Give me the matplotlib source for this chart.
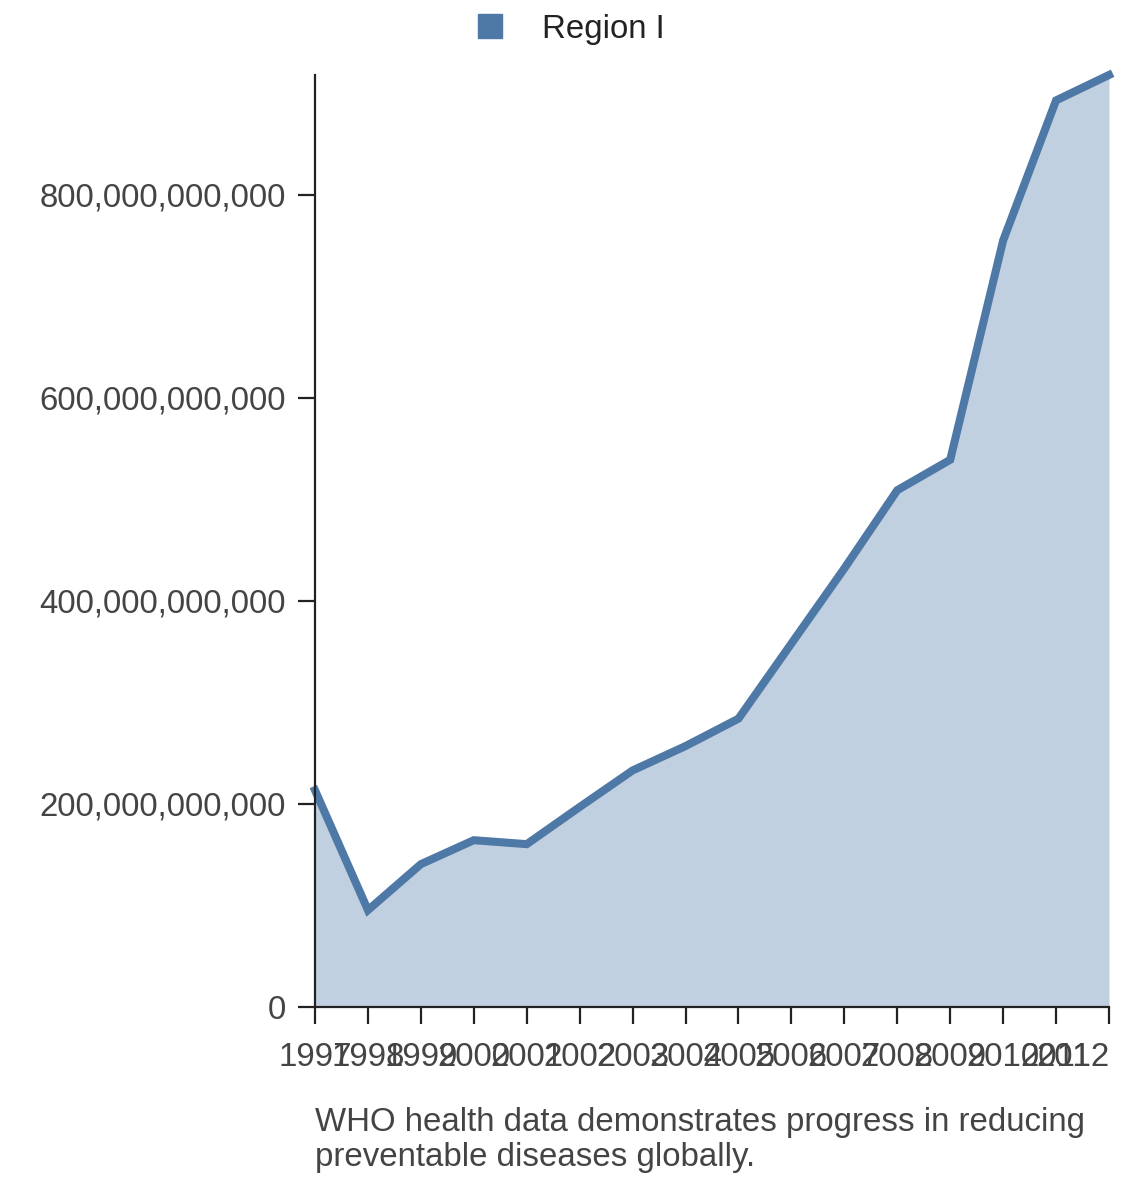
import matplotlib
matplotlib.use('Agg')
import matplotlib.pyplot as plt
from matplotlib.ticker import FuncFormatter
from matplotlib.lines import Line2D

years = [1997, 1998, 1999, 2000, 2001, 2002, 2003, 2004, 2005, 2006, 2007, 2008, 2009, 2010, 2011, 2012]
values_bn = [213.5, 95.4, 140.7, 164.3, 160.4, 197, 233, 257, 284, 358, 432, 509, 539, 755, 893, 918]
series_name = 'Region I'
caption = 'WHO health data demonstrates progress in reducing\npreventable diseases globally.'

values = [v * 1e9 for v in values_bn]

plt.rcParams['font.family'] = ['Liberation Sans', 'DejaVu Sans']

line_color = '#4e79a7'
text_color = '#444444'
fs = 23.8

fig = plt.figure(figsize=(11.4, 11.82), dpi=100)
ax = fig.add_axes([315 / 1140, 1 - 1007 / 1182, (1109 - 315) / 1140, (1007 - 75) / 1182])

ax.fill_between(years, values, 0, color=line_color, alpha=0.35, linewidth=0)
ax.plot(years, values, color=line_color, linewidth=5.8, solid_joinstyle='miter', clip_on=False)

ax.set_xlim(years[0], years[-1])
ax.set_ylim(0, max(values))
ax.set_xticks(years)
ax.set_yticks([0, 200e9, 400e9, 600e9, 800e9])
ax.yaxis.set_major_formatter(FuncFormatter(lambda v, p: '{:,.0f}'.format(v)))

for s in ['top', 'right']:
    ax.spines[s].set_visible(False)
for s in ['left', 'bottom']:
    ax.spines[s].set_color('#222222')
    ax.spines[s].set_linewidth(1.6)

ax.tick_params(axis='both', direction='out', length=12, width=1.6, color='#222222',
               labelsize=fs, labelcolor=text_color)
ax.tick_params(axis='y', pad=9)
ax.tick_params(axis='x', pad=13)

# keep the last year label inside the figure
ax.get_xticklabels()[-1].set_horizontalalignment('right')

# legend
handle = Line2D([], [], marker='s', linestyle='none', markersize=17, color=line_color)
fig.legend(handles=[handle], labels=[series_name], loc='upper center', bbox_to_anchor=(0.492, 1.005),
           frameon=False, fontsize=fs, handletextpad=0.6, labelcolor='#222222', borderaxespad=0.2)

# caption
fig.text(315 / 1140, 1 - 1107 / 1182, caption, ha='left', va='top', fontsize=fs,
         color=text_color, linespacing=1.17)

fig.savefig('out.png', dpi=100)
